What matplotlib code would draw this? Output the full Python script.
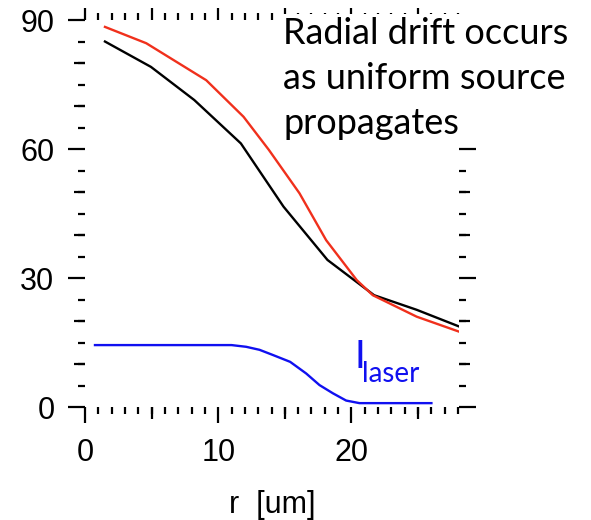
import matplotlib
matplotlib.use("Agg")
import matplotlib.pyplot as plt
from matplotlib.ticker import MultipleLocator

# radial profiles, r in um
r_black = [1.5, 4.95, 8.2, 11.7, 14.9, 18.2, 21.7, 24.9, 28.1]
v_black = [85.0, 79.1, 71.4, 61.3, 46.6, 34.2, 26.0, 22.6, 18.7]

r_red = [1.5, 4.6, 9.1, 11.9, 13.8, 16.1, 18.1, 20.4, 21.6, 24.9, 28.1]
v_red = [88.4, 84.6, 76.0, 67.5, 59.8, 49.7, 38.8, 29.5, 26.0, 21.0, 17.5]

r_laser = [0.75, 11.0, 12.1, 13.1, 14.1, 15.4, 16.6, 17.6, 18.6, 19.6, 20.6, 26.0]
v_laser = [14.4, 14.4, 14.0, 13.3, 12.1, 10.5, 7.8, 5.1, 3.2, 1.5, 0.9, 0.9]

x_major = [0, 10, 20]
x_mid = [5, 15, 25]
x_top = [0, 5, 10, 15, 20, 25]
y_major = [0, 30, 60, 90]
y_mid = [10, 20, 40, 50, 70, 80]

RED = "#f0301c"
BLUE = "#1010f0"
TICK_FONT = "Liberation Sans"
NOTE_FONT = "Lato"

plt.rcParams.update({
    "font.family": TICK_FONT,
    "font.size": 22,
})

fig = plt.figure(figsize=(5.91, 5.20), dpi=100)
ax = fig.add_axes([0.1438, 0.2173, 0.6335, 0.7442])

ax.plot(r_black, v_black, color="black", lw=1.7)
ax.plot(r_red, v_red, color=RED, lw=1.7)
ax.plot(r_laser, v_laser, color=BLUE, lw=1.7)

ax.set_xlim(0, 28.1)
ax.set_ylim(0, 90)
for s in ax.spines.values():
    s.set_visible(False)

ax.set_xticks(x_major)
ax.set_yticks(y_major)
ax.xaxis.set_minor_locator(MultipleLocator(1))
ax.yaxis.set_minor_locator(MultipleLocator(5))
ax.tick_params(which="both", direction="out", top=False, right=True, width=1.6)
ax.tick_params(axis="x", which="major", length=11.5, pad=11)
ax.tick_params(axis="y", which="major", length=12, pad=10)
ax.tick_params(which="minor", length=5)

# medium-length ticks at the halfway marks
sec = ax.secondary_xaxis("bottom")
sec.set_xticks(x_mid)
sec.tick_params(direction="out", length=8.5, width=1.6, labelbottom=False)
sec.spines["bottom"].set_visible(False)

# top edge: every 5 at medium length, short ones in between
top = ax.secondary_xaxis("top")
top.set_xticks(x_top)
top.xaxis.set_minor_locator(MultipleLocator(1))
top.tick_params(which="both", direction="out", width=1.6, labeltop=False)
top.tick_params(which="major", length=8.5)
top.tick_params(which="minor", length=5)
top.spines["top"].set_visible(False)

for side in ("left", "right"):
    sec = ax.secondary_yaxis(side)
    sec.set_yticks(y_mid)
    sec.tick_params(direction="out", length=8, width=1.6,
                    labelleft=False, labelright=False)
    sec.spines[side].set_visible(False)

ax.set_xlabel("r  [um]", labelpad=16)

# laser intensity label
ax.text(20.2, 9.1, "I", color=BLUE, fontsize=28, family=NOTE_FONT,
        va="baseline", ha="left")
ax.annotate("laser", xy=(20.2, 9.1), xytext=(6, -10),
            textcoords="offset points", color=BLUE, fontsize=20,
            family=NOTE_FONT, va="baseline", ha="left")

fig.text(283 / 591, 1 - 17 / 520,
         "Radial drift occurs\nas uniform source\npropagates",
         fontsize=26, family=NOTE_FONT, ha="left", va="top",
         linespacing=1.45, zorder=5,
         bbox=dict(facecolor="white", edgecolor="none",
                   boxstyle="square,pad=0.08"))

fig.savefig("out.png", dpi=100)
